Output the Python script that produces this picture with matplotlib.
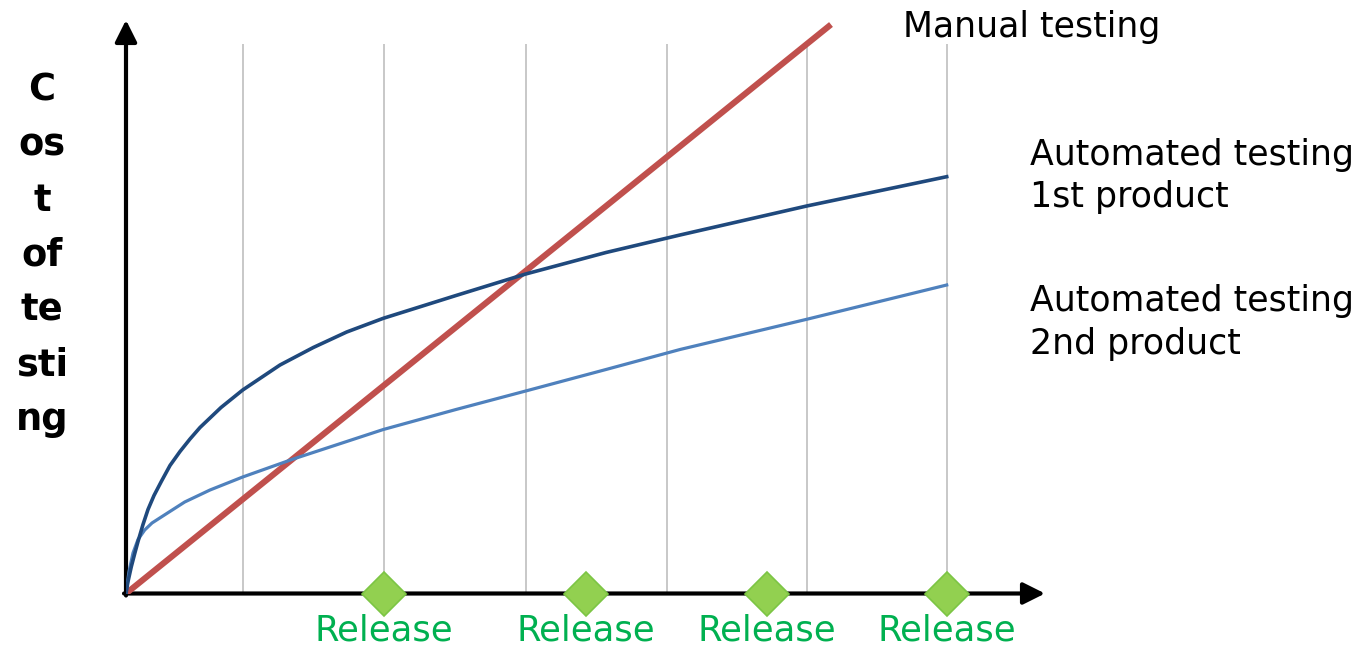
import numpy as np
import matplotlib
matplotlib.use('Agg')
import matplotlib.pyplot as plt

# time axis (1 unit ~ 100 px) and cost of testing
manual_x = [0.0, 7.05]
manual_y = [0.0, 5.69]

auto1_x = [0.0, 0.02, 0.053, 0.09, 0.12, 0.17, 0.22, 0.28, 0.353, 0.44, 0.54,
           0.64, 0.74, 0.95, 1.167, 1.54, 1.873, 2.207, 2.573, 3.3, 3.997,
           4.8, 5.54, 6.807, 8.207]
auto1_y = [0.0, 0.12, 0.268, 0.41, 0.52, 0.69, 0.84, 0.98, 1.12, 1.28, 1.42,
           1.545, 1.66, 1.86, 2.035, 2.285, 2.46, 2.615, 2.752, 2.98, 3.195,
           3.41, 3.585, 3.875, 4.168]

auto2_x = [0.0, 0.03, 0.07, 0.12, 0.187, 0.26, 0.353, 0.587, 0.84, 1.167, 1.673,
           2.207, 2.573, 3.3, 3.997, 4.8, 5.54, 6.807, 8.207]
auto2_y = [0.0, 0.22, 0.405, 0.54, 0.635, 0.705, 0.765, 0.915, 1.035, 1.165,
           1.345, 1.52, 1.64, 1.84, 2.025, 2.24, 2.44, 2.742, 3.085]

grid_x = [1.17, 2.58, 4.00, 5.41, 6.81, 8.21]
release_x = [2.58, 4.60, 6.41, 8.21]
release_labels = ['Release'] * len(release_x)

ylabel = 'C\nos\nt\nof\nte\nsti\nng'
labels = ['Manual testing', 'Automated testing\n1st product',
          'Automated testing\n2nd product']

plt.rcParams['font.family'] = ['DejaVu Sans']

my_dpi = 100
fig = plt.figure(figsize=(1359 / my_dpi, 648 / my_dpi), dpi=my_dpi)
ax = fig.add_axes([126 / 1359, 54.5 / 648, 1000 / 1359, 580 / 648])
ax.set_xlim(0, 10)
ax.set_ylim(0, 5.8)
ax.axis('off')

# light vertical grid
ax.vlines(grid_x, 0, 5.5, colors='#c4c4c4', lw=1.3, zorder=1)

# axes with arrow heads
arrow = dict(arrowstyle='-|>,head_length=0.6,head_width=0.3',
             mutation_scale=22, lw=3, color='black', shrinkA=0, shrinkB=0)
ax.annotate('', xy=(9.19, 0), xytext=(-0.02, 0), arrowprops=arrow,
            annotation_clip=False, zorder=2)
ax.annotate('', xy=(0, 5.735), xytext=(0, -0.02), arrowprops=arrow,
            annotation_clip=False, zorder=2)

ax.plot(manual_x, manual_y, color='#c0504d', lw=4.4,
        solid_capstyle='butt', zorder=3)
ax.plot(auto2_x, auto2_y, color='#4f81bd', lw=2.3, zorder=4,
        solid_joinstyle='round')
ax.plot(auto1_x, auto1_y, color='#1f497d', lw=2.6, zorder=4,
        solid_joinstyle='round')

ax.plot(release_x, [0] * len(release_x), 'D', ms=22, color='#92d050',
        mec='#7cc544', mew=1.2, clip_on=False, zorder=5)
for x, lab in zip(release_x, release_labels):
    ax.annotate(lab, xy=(x, 0), xytext=(0, -33.5), textcoords='offset points',
                ha='center', va='baseline', fontsize=25.5, color='#00b050',
                annotation_clip=False)

ax.text(7.77, 5.565, labels[0], fontsize=25, va='baseline', ha='left',
        clip_on=False)
ax.text(9.04, 4.56, labels[1], fontsize=25, va='top', ha='left',
        linespacing=1.3, clip_on=False)
ax.text(9.04, 3.09, labels[2], fontsize=25, va='top', ha='left',
        linespacing=1.3, clip_on=False)

ax.text(-0.84, 3.385, ylabel, fontsize=26.5, fontweight='bold', ha='center',
        va='center', multialignment='center', linespacing=1.62, clip_on=False)

fig.savefig('out.png', dpi=my_dpi)
